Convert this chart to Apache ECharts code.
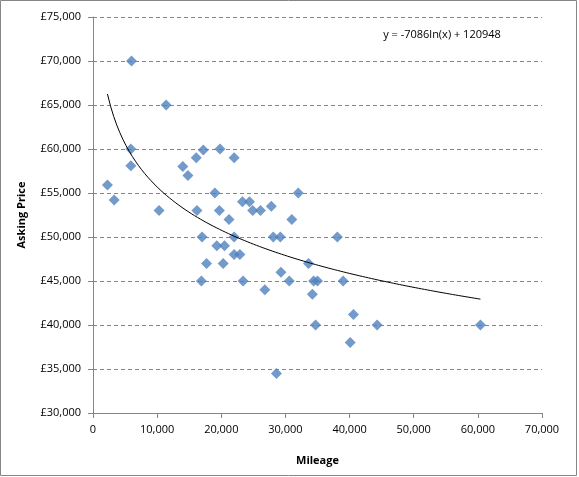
<!DOCTYPE html>
<html>
<head>
<meta charset="utf-8">
<script src="https://cdn.jsdelivr.net/npm/echarts@6/dist/echarts.min.js"></script>
<style>
html,body{margin:0;padding:0;background:#fff;}
#chart{width:579px;height:477px;}
</style>
</head>
<body>
<div id="chart"></div>
<script>
// Mileage (x) and asking price (y) of each car
const mileage = [2250, 3300, 6000, 5900, 5900, 11400, 10300, 14000, 14800, 16100,
  17200, 19800, 22000, 19000, 16200, 19700, 21200, 23300, 24400, 24900,
  26100, 27800, 17000, 32000, 31000, 22000, 28100, 29200, 38100, 19300,
  20500, 22000, 22900, 17700, 20300, 33600, 29300, 16900, 23400, 30600,
  26800, 34400, 35000, 39000, 34200, 34700, 40600, 44300, 60400, 40100, 28600];
const price = [55900, 54200, 70000, 60000, 58100, 65000, 53000, 58000, 57000, 59000,
  59900, 60000, 59000, 55000, 53000, 53000, 52000, 54000, 54000, 53000,
  53000, 53500, 50000, 55000, 52000, 50000, 50000, 50000, 50000, 49000,
  49000, 48000, 48000, 47000, 47000, 47000, 46000, 45000, 45000, 45000,
  44000, 45000, 45000, 45000, 43500, 40000, 41200, 40000, 40000, 38000, 34500];

// Logarithmic trendline as printed on the chart: y = -7086 ln(x) + 120948
const trendSlope = -7086;
const trendIntercept = 120948;
const trendLabel = 'y = -7086ln(x) + 120948';

const xTicks = [0, 10000, 20000, 30000, 40000, 50000, 60000, 70000];
const yTicks = [30000, 35000, 40000, 45000, 50000, 55000, 60000, 65000, 70000, 75000];

const points = mileage.map((m, i) => [m, price[i]]);
const xMinData = Math.min(...mileage), xMaxData = Math.max(...mileage);
const trend = [];
const steps = 120;
for (let k = 0; k <= steps; k++) {
  const x = xMinData + (xMaxData - xMinData) * k / steps;
  trend.push([x, trendSlope * Math.log(x) + trendIntercept]);
}

const fmt = v => v.toLocaleString('en-GB');
const FONT = 'Open Sans';

const chart = echarts.init(document.getElementById('chart'));
chart.setOption({
  animation: false,
  backgroundColor: '#fff',
  grid: {left: 93, right: 37, top: 17, bottom: 64},
  xAxis: {
    type: 'value', min: xTicks[0], max: xTicks[xTicks.length - 1], interval: 10000,
    name: 'Mileage', nameLocation: 'middle', nameGap: 42,
    nameTextStyle: {fontFamily: FONT, fontWeight: 'bold', fontSize: 11, color: '#000'},
    axisLine: {show: true, lineStyle: {color: '#868686', width: 1}},
    axisTick: {show: true, length: 5, lineStyle: {color: '#868686'}},
    axisLabel: {formatter: v => fmt(v), fontFamily: FONT, fontSize: 11, color: '#000', margin: 11},
    splitLine: {show: false}
  },
  yAxis: {
    type: 'value', min: yTicks[0], max: yTicks[yTicks.length - 1], interval: 5000,
    name: 'Asking Price', nameLocation: 'middle', nameGap: 66, nameRotate: 90,
    nameTextStyle: {fontFamily: FONT, fontWeight: 'bold', fontSize: 11, color: '#000'},
    axisLine: {show: true, lineStyle: {color: '#868686', width: 1}},
    axisTick: {show: true, length: 5, lineStyle: {color: '#868686'}},
    axisLabel: {formatter: v => '£' + fmt(v), fontFamily: FONT, fontSize: 11, color: '#000', margin: 12},
    splitLine: {show: true, lineStyle: {color: '#868686', type: [4, 3], width: 1}}
  },
  series: [
    {
      type: 'scatter', data: points, symbol: 'diamond', symbolSize: 11,
      itemStyle: {color: '#4F81BD'}, z: 3
    },
    {
      type: 'line', data: trend, showSymbol: false, symbol: 'none', smooth: false,
      lineStyle: {color: '#000', width: 1}, z: 4, silent: true
    }
  ],
  graphic: [
    {type: 'rect', shape: {x: 0.5, y: 0.5, width: 576, height: 475},
     style: {fill: null, stroke: '#868686', lineWidth: 1}, silent: true},
    {type: 'text', x: 442, y: 35,
     style: {text: trendLabel, fontFamily: FONT, fontSize: 11, fill: '#000', align: 'center', verticalAlign: 'middle'}}
  ]
});
</script>
</body>
</html>
